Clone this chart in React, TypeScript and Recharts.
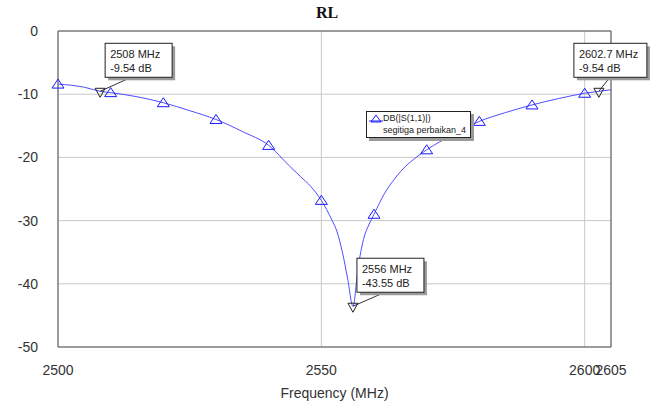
import { ComposedChart, Line, Scatter, XAxis, YAxis, CartesianGrid, ReferenceArea } from 'recharts'

// S11 sweep
const CURVE_FREQ = [2500, 2505, 2508, 2510, 2515, 2520, 2525, 2530, 2535, 2540, 2544, 2546, 2548, 2550, 2552, 2553, 2554, 2555, 2556, 2557, 2558, 2559, 2560, 2562, 2564, 2566, 2568, 2570, 2575, 2580, 2585, 2590, 2595, 2600, 2602.7, 2605]
const CURVE_DB = [-8.4, -8.9, -9.54, -9.75, -10.4, -11.35, -12.6, -14.0, -15.9, -18.1, -21.4, -23.0, -24.6, -26.8, -29.9, -31.8, -35.0, -39.2, -43.55, -37.3, -33.0, -30.7, -29.0, -25.7, -23.3, -21.4, -20.0, -18.8, -16.4, -14.3, -12.9, -11.7, -10.7, -9.85, -9.54, -9.3]
const TRIANGLE_FREQ = [2500, 2510, 2520, 2530, 2540, 2550, 2560, 2570, 2580, 2590, 2600]

const MARKER_FREQ = [2508, 2556, 2602.7]
const MARKER_DB = [-9.54, -43.55, -9.54]

const X_TICKS = [2500, 2550, 2600, 2605]
const Y_TICKS = [0, -10, -20, -30, -40, -50]

const curve = CURVE_FREQ.map((f, i) => ({ f, db: CURVE_DB[i] }))
const markers = MARKER_FREQ.map((f, i) => ({ f, db: MARKER_DB[i], i }))

// label box placement relative to each marker (same order as MARKER_FREQ)
const BOX = [
  { dx: 5, dy: -48, w: 67, lx: 26 },
  { dx: 4, dy: -48, w: 67, lx: 28 },
  { dx: -25, dy: -48, w: 73, lx: 36 },
]

const FONT = '"Liberation Sans", Arial, sans-serif'
const tick = { fill: '#333', fontSize: 14, fontFamily: FONT }

function TriDot(props: any) {
  const { cx, cy, payload, index } = props
  if (!TRIANGLE_FREQ.includes(payload.f)) return <g key={index} />
  return (
    <path key={index} d={`M${cx},${cy - 5} L${cx + 6},${cy + 4} L${cx - 6},${cy + 4} Z`}
      fill="none" stroke="#1a1aff" strokeWidth={1} />
  )
}

function MarkerShape(props: any) {
  const { cx, cy, payload } = props
  const b = BOX[payload.i]
  const bx = cx + b.dx
  const by = cy + b.dy
  return (
    <g>
      <line x1={cx} y1={cy} x2={bx + b.lx} y2={by + 34} stroke="#333" strokeWidth={1} />
      <path d={`M${cx - 5},${cy - 3} L${cx + 5},${cy - 3} L${cx},${cy + 6} Z`} fill="none" stroke="#222" />
      <rect x={bx + 3} y={by + 3} width={b.w} height={34} fill="#9a9a9a" />
      <rect x={bx} y={by} width={b.w} height={34} fill="#fff" stroke="#222" />
      <text x={bx + 5} y={by + 15} fontSize={11} fontFamily={FONT} fill="#222">{payload.f} MHz</text>
      <text x={bx + 5} y={by + 29} fontSize={11} fontFamily={FONT} fill="#222">{payload.db} dB</text>
    </g>
  )
}

export default function App() {
  return (
    <div style={{ position: 'absolute', left: 0, top: 0, width: 654, height: 405, background: '#fff' }}>
      <div style={{ position: 'absolute', top: 4, left: 0, width: 654, textAlign: 'center', fontFamily: '"Liberation Serif", "Times New Roman", serif', fontWeight: 'bold', fontSize: 16, color: '#111' }}>
        RL
      </div>
      <ComposedChart width={654} height={405} margin={{ top: 31, right: 43, bottom: 0, left: 0 }}>
        <CartesianGrid stroke="#c8c8c8" />
        <XAxis dataKey="f" type="number" domain={[2500, 2605]} ticks={X_TICKS} interval={0}
          height={58} tickSize={0} tickMargin={18} axisLine={false} tick={tick}
          label={{ value: 'Frequency (MHz)', position: 'insideBottom', offset: 7, fill: '#333', fontSize: 14, fontFamily: FONT }} />
        <YAxis dataKey="db" type="number" domain={[-50, 0]} ticks={Y_TICKS} interval={0}
          width={58} tickSize={0} tickMargin={20} axisLine={false} tick={tick} />
        <ReferenceArea x1={2500} x2={2605} y1={-50} y2={0} fill="none" stroke="#555" strokeWidth={1} />
        <Line data={curve} dataKey="db" type="monotone" stroke="#4d4dff" strokeWidth={1}
          dot={TriDot} activeDot={false} isAnimationActive={false} />
        <Scatter data={markers} dataKey="db" shape={MarkerShape} isAnimationActive={false} />
      </ComposedChart>
      <div style={{ position: 'absolute', left: 366, top: 111, width: 103, height: 25, background: '#fff', border: '1px solid #222', boxShadow: '3px 3px 0 #9a9a9a', fontFamily: FONT, fontSize: 9, color: '#222', lineHeight: '11px' }}>
        <svg width={14} height={10} style={{ position: 'absolute', left: 2, top: 2 }}>
          <path d="M7,1 L12,8 L2,8 Z" fill="none" stroke="#1a1aff" />
          <line x1={0} y1={7} x2={14} y2={7} stroke="#1a1aff" />
        </svg>
        <div style={{ position: 'absolute', left: 16, top: 1 }}>DB(|S(1,1)|)</div>
        <div style={{ position: 'absolute', left: 16, top: 13, whiteSpace: 'nowrap' }}>segitiga perbaikan_4</div>
      </div>
    </div>
  )
}
